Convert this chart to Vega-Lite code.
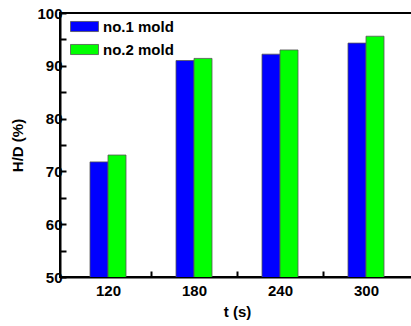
{
  "$schema": "https://vega.github.io/schema/vega-lite/v6.json",
  "width": 354,
  "height": 264,
  "autosize": "none",
  "padding": {"left": 60, "top": 13, "right": 0, "bottom": 49},
  "background": "white",
  "config": {
    "view": {"stroke": "black", "strokeWidth": 2},
    "font": "Liberation Sans"
  },
  "data": {
    "values": [
      {"t": 120, "mold": "no.1 mold", "hd": 71.8},
      {"t": 120, "mold": "no.2 mold", "hd": 73.1},
      {"t": 180, "mold": "no.1 mold", "hd": 91.0},
      {"t": 180, "mold": "no.2 mold", "hd": 91.4},
      {"t": 240, "mold": "no.1 mold", "hd": 92.2},
      {"t": 240, "mold": "no.2 mold", "hd": 93.0},
      {"t": 300, "mold": "no.1 mold", "hd": 94.3},
      {"t": 300, "mold": "no.2 mold", "hd": 95.6}
    ]
  },
  "encoding": {
    "x": {
      "field": "t", "type": "quantitative",
      "scale": {"domain": [90, 330], "nice": false, "zero": false},
      "axis": {
        "values": [120, 150, 180, 210, 240, 270, 300],
        "labelExpr": "datum.value % 60 == 0 ? datum.label : ''",
        "title": "t (s)",
        "titleFontSize": 15, "titleFontWeight": "bold", "titleColor": "black", "titlePadding": 6,
        "labelFontSize": 15, "labelFontWeight": "bold", "labelColor": "black", "labelPadding": 12,
        "domainColor": "black", "domainWidth": 2,
        "ticks": true,
        "tickColor": "black", "tickWidth": 2, "tickSize": -6, "tickOpacity": 1,
        "grid": false
      }
    },
    "y": {
      "field": "hd", "type": "quantitative",
      "scale": {"domain": [50, 100], "nice": false, "zero": false},
      "axis": {
        "values": [50, 55, 60, 65, 70, 75, 80, 85, 90, 95, 100],
        "labelExpr": "datum.value % 10 == 0 ? datum.label : ''",
        "title": "H/D (%)",
        "titleFontSize": 15, "titleFontWeight": "bold", "titleColor": "black", "titlePadding": 11,
        "labelFontSize": 15, "labelFontWeight": "bold", "labelColor": "black", "labelPadding": 4,
        "domainColor": "black", "domainWidth": 2,
        "ticks": true,
        "tickColor": "black", "tickWidth": 2, "tickSize": -6, "tickOpacity": 1,
        "grid": false
      }
    },
    "color": {
      "field": "mold", "type": "nominal",
      "scale": {"domain": ["no.1 mold", "no.2 mold"], "range": ["#0000ff", "#00ff00"]},
      "legend": {
        "title": null,
        "orient": "none",
        "legendX": 10,
        "legendY": -1,
        "symbolType": "M-1,-0.36H1V0.36H-1Z",
        "symbolSize": 784,
        "symbolStrokeColor": "#555555",
        "symbolStrokeWidth": 0.8,
        "symbolOpacity": 1,
        "labelFontSize": 15,
        "labelFontWeight": "bold",
        "labelColor": "black",
        "labelOffset": 4,
        "rowPadding": -8
      }
    }
  },
  "layer": [
    {
      "transform": [{"filter": "datum.mold == 'no.1 mold'"}],
      "mark": {"type": "bar", "size": 18, "xOffset": -9, "clip": true, "stroke": "#555555", "strokeWidth": 0.8, "opacity": 1}
    },
    {
      "transform": [{"filter": "datum.mold == 'no.2 mold'"}],
      "mark": {"type": "bar", "size": 18, "xOffset": 9, "clip": true, "stroke": "#555555", "strokeWidth": 0.8, "opacity": 1}
    }
  ]
}
